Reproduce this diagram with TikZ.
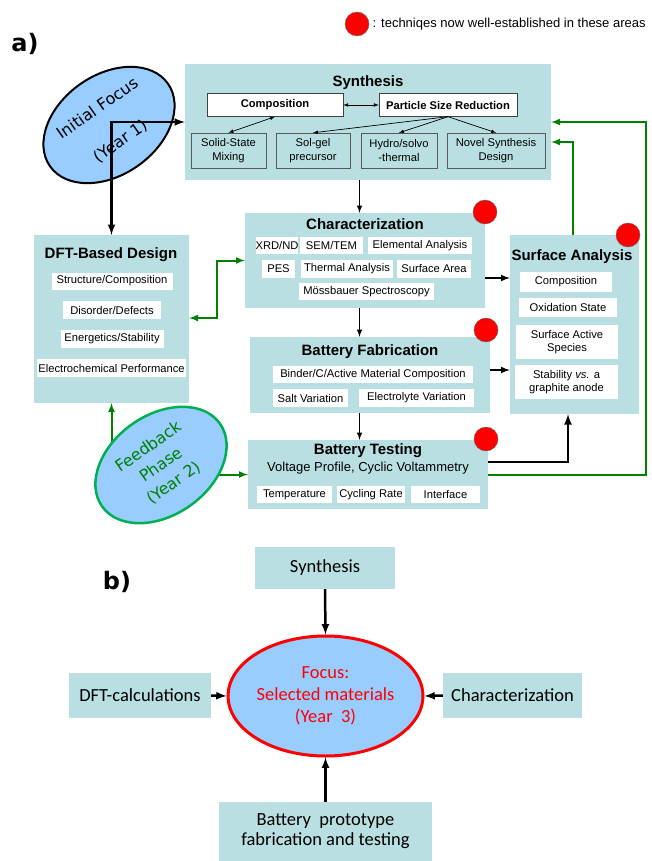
\documentclass[tikz,border=0pt]{standalone}
\usepackage{fontspec}
\setmainfont{Liberation Sans}
\newfontfamily\ellfont{DejaVu Sans}
\newfontfamily\calfont{Carlito}
\usepackage{tikz}
\usetikzlibrary{calc, positioning, arrows, shapes, backgrounds}

\definecolor{bleuboite}{RGB}{185,223,226}
\definecolor{bleuell}{RGB}{153,204,255}
\definecolor{vertfonce}{RGB}{0,128,0}
\definecolor{vertclair}{RGB}{0,176,80}

\begin{document}
\begin{tikzpicture}[x=1pt, y=-1pt]
		\tikzstyle{zone}=[fill=bleuboite, inner sep=0pt]
		\tikzstyle{titre}=[inner sep=0pt, font=\fontsize{15}{18}\selectfont\bfseries]
		\tikzstyle{item}=[fill=white, inner sep=0pt, align=center, font=\fontsize{11.2}{13.5}\selectfont]
		\tikzstyle{sousboite}=[item, fill=bleuboite, draw=black!65]
		\tikzstyle{cle}=[item, draw=black!75, font=\fontsize{11.2}{13.5}\selectfont\bfseries]
		\tikzstyle{pastille}=[circle, fill=red, draw=black!60, minimum size=24, inner sep=0pt]
		\tikzstyle{bulle}=[ellipse, fill=bleuell, rotate=35, minimum width=144, minimum height=100, inner sep=0pt, align=center, font=\ellfont\fontsize{16}{20}\selectfont]
		\tikzstyle{boiteb}=[zone, align=center, font=\calfont\fontsize{18.5}{20}\selectfont]
		\tikzstyle{etiq}=[font=\ellfont\bfseries\fontsize{24}{28}\selectfont]
		\tikzstyle{fine}=[->,>=latex, line width=0.7]
		\tikzstyle{fleche}=[->,>=latex, line width=1.5]
		\tikzstyle{grosse}=[->,>=latex, line width=2.5]
		\tikzstyle{verte}=[->,>=latex, line width=2, color=vertfonce]
		\useasboundingbox (0,0) rectangle (652,861);

		% legende
		\node[pastille] (legpt) at (357,24) {};
		\node[right=0pt of legpt, font=\fontsize{13}{15}\selectfont] (legende) {: techniqes now well-established in these areas};
		\node[etiq] (lblA) at (25,44) {a)};

		% synthese
		\node[zone, minimum width=366, minimum height=116] (synth) at (368,122) {};
		\node[titre] (synthT) at (368,83) {Synthesis};
		\node[cle, minimum width=136, minimum height=23] (compo) at (275,105) {Composition};
		\node[cle, minimum width=138, minimum height=23] (psr) at (448,105) {Particle Size Reduction};
		\node[sousboite, minimum width=75, minimum height=35] (solid) at (228.5,150.5) {Solid-State\\Mixing};
		\node[sousboite, minimum width=74, minimum height=35] (solgel) at (313,150.5) {Sol-gel\\precursor};
		\node[sousboite, minimum width=76, minimum height=35] (hydro) at (399,150.5) {Hydro/solvo\\-thermal};
		\node[sousboite, minimum width=98, minimum height=35] (novel) at (496,150.5) {Novel Synthesis\\Design};
		\draw[fine, <->] (compo) -- (psr);
		\draw[fine, <->] (compo.south) -- (solid.north);
		\draw[fine] (psr.south) -- (solgel.north);
		\draw[fine] (psr.south) -- (hydro.north);
		\draw[fine] (psr.south) -- (novel.north);

		% DFT
		\node[zone, minimum width=155, minimum height=168] (dft) at (111.5,319) {};
		\node[titre] (dftT) at (111,255) {DFT-Based Design};
		\node[item, minimum width=121, minimum height=17] (struct) at (112,281) {Structure/Composition};
		\node[item, minimum width=98, minimum height=18] (disorder) at (112,310) {Disorder/Defects};
		\node[item, minimum width=103, minimum height=18] (energ) at (112,339) {Energetics/Stability};
		\node[item, minimum width=149, minimum height=18] (electro) at (111.5,368) {Electrochemical Performance};

		% caracterisation
		\node[zone, minimum width=240, minimum height=95] (char) at (365,260.5) {};
		\node[titre] (charT) at (365,224) {Characterization};
		\node[item, minimum height=17] (xrd) at (277,245.5) {XRD/ND};
		\node[item, minimum width=63, minimum height=17] (sem) at (331.5,245.5) {SEM/TEM};
		\node[item, minimum width=104, minimum height=17] (elem) at (420,245.5) {Elemental Analysis};
		\node[item, minimum width=33, minimum height=18] (pes) at (278.5,269) {PES};
		\node[item, minimum width=92, minimum height=18] (therm) at (347,269) {Thermal Analysis};
		\node[item, minimum width=74, minimum height=18] (area) at (434,269) {Surface Area};
		\node[item, minimum width=135, minimum height=17] (moss) at (366.5,291.5) {Mössbauer Spectroscopy};

		% fabrication
		\node[zone, minimum width=240, minimum height=76] (fab) at (370,375) {};
		\node[titre] (fabT) at (370,352) {Battery Fabrication};
		\node[item, minimum width=200, minimum height=17] (binder) at (373,374.5) {Binder/C/Active Material Composition};
		\node[item, minimum width=75, minimum height=18] (salt) at (310.5,398) {Salt Variation};
		\node[item, minimum width=115, minimum height=18] (electrolyte) at (416.5,398) {Electrolyte Variation};

		% test
		\node[zone, minimum width=240, minimum height=69] (test) at (368,474.5) {};
		\node[titre] (testT) at (368,451) {Battery Testing};
		\node[inner sep=0pt, font=\fontsize{13}{15}\selectfont] (voltage) at (368,468) {Voltage Profile, Cyclic Voltammetry};
		\node[item, minimum width=75, minimum height=17] (temp) at (294.5,494.5) {Temperature};
		\node[item, minimum width=68, minimum height=17] (cycling) at (371,494.5) {Cycling Rate};
		\node[item, minimum width=69, minimum height=17] (interface) at (445.5,494.5) {Interface};

		% surface
		\node[zone, minimum width=129, minimum height=179] (surf) at (574.5,324.5) {};
		\node[titre] (surfT) at (572,257) {Surface Analysis};
		\node[item, minimum width=92, minimum height=20] (compoS) at (566,282) {Composition};
		\node[item, minimum width=98, minimum height=19] (oxid) at (568,307.5) {Oxidation State};
		\node[item, minimum width=102, minimum height=34] (species) at (567,342) {Surface Active\\Species};
		\node[item, minimum width=103, minimum height=34] (stab) at (566.5,382) {Stability \textit{vs.} a\\graphite anode};

		% bulles
		\node[bulle, draw=black, line width=2] (init) at (109,125) {Initial Focus\\[20pt](Year 1)};
		\node[bulle, draw=vertclair, line width=2.5, text=vertfonce, font=\ellfont\fontsize{16}{22}\selectfont] (feed) at (161,465) {Feedback\\Phase\\(Year 2)};

		% fleches
		\coordinate (spine) at (359.5,0);
		\draw[grosse, <->] (dft.north) |- (synth.west);
		\draw[fleche] (synth.south -| spine) -- (char.north -| spine);
		\draw[fleche] (char.south -| spine) -- (fab.north -| spine);
		\draw[fleche] (fab.south -| spine) -- (test.north -| spine);
		\draw[->, >=latex, line width=2] ([yshift=-17.5]char.east) -- ([yshift=-17.5]char.east -| surf.west);
		\draw[->, >=latex, line width=2] ([yshift=5]fab.east) -- ([yshift=5]fab.east -| surf.west);
		\draw[grosse] ([yshift=12.5]test.east) -| ([xshift=-6.5]surf.south);
		\draw[verte] (test.east) -| ([xshift=7]surf.east) |- (synth.east);
		\draw[verte] ([xshift=-1.5]surf.north) |- ([yshift=-20]synth.east);
		\draw[verte, <->] ([yshift=1]dft.east) -- ++(28,0) |- (char.west);
		\begin{scope}[on background layer]
			\draw[verte] (dft.south |- feed.center) -- (dft.south);
			\draw[verte] (feed.center |- test.west) -- (test.west);
		\end{scope}

		% pastilles
		\node[pastille] (ptChar) at (485,212) {};
		\node[pastille] (ptFab) at (486,330) {};
		\node[pastille] (ptTest) at (486,439) {};
		\node[pastille] (ptSurf) at (628,235) {};

		% partie b
		\node[etiq] (lblB) at (117,582) {b)};
		\node[boiteb, minimum width=140, minimum height=42] (bsynth) at (325,568) {Synthesis};
		\node[boiteb, minimum width=142, minimum height=45] (bdft) at (140,695.5) {DFT-calculations};
		\node[boiteb, minimum width=139, minimum height=45] (bchar) at (512.5,695.5) {Characterization};
		\node[boiteb, minimum width=213, minimum height=59] (bbatt) at (325.5,831.5) {Battery~~prototype\\fabrication and testing};
		\node[ellipse, fill=bleuell, draw=red, line width=3, minimum width=155, minimum height=120, inner sep=0pt, align=center, text=red, font=\calfont\fontsize{18.5}{22}\selectfont] (focus) at (325.5,696) {Focus:\\Selected materials\\(Year~~3)};
		\draw[grosse] (bsynth.south) -- (focus.north);
		\draw[grosse] (bdft.east) -- (focus.west);
		\draw[grosse] (bchar.west) -- (focus.east);
		\draw[grosse] (bbatt.north) -- (focus.south);
	\end{tikzpicture}
\end{document}
